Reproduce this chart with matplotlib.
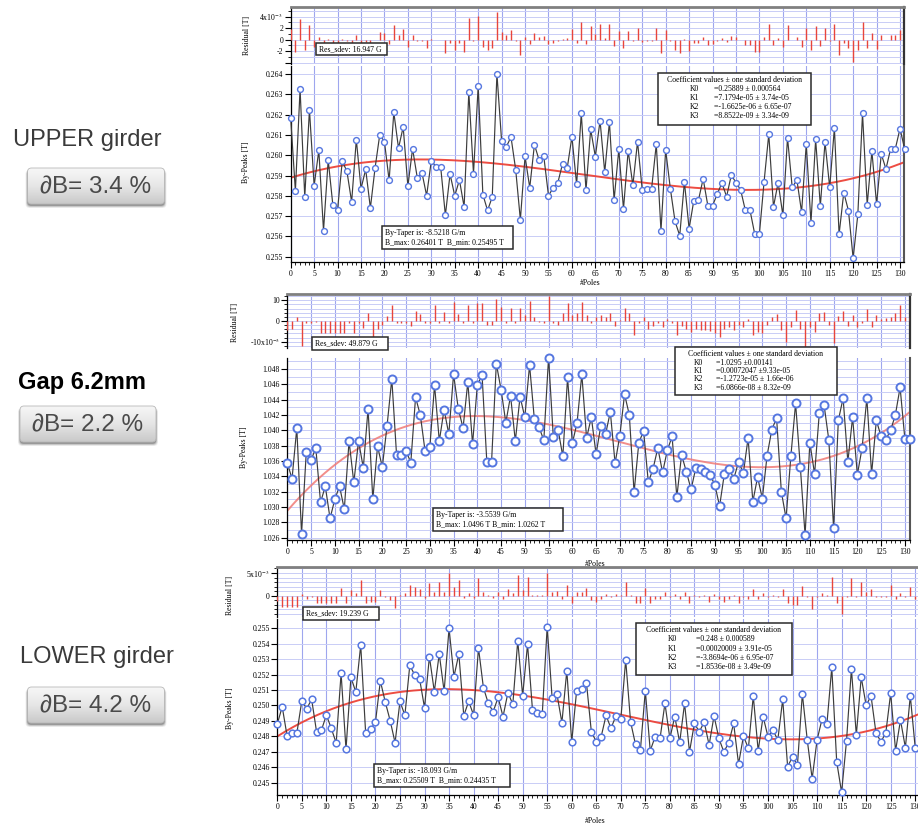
import numpy as np
import matplotlib
matplotlib.use('Agg')
import matplotlib.pyplot as plt
from matplotlib.patches import FancyBboxPatch, Rectangle
from matplotlib.ticker import MultipleLocator, FixedLocator, FixedFormatter, FormatStrFormatter
from matplotlib.colors import LinearSegmentedColormap
from numpy.polynomial import polynomial as P

plt.rcParams['font.family'] = ['Liberation Serif', 'DejaVu Serif']
plt.rcParams['mathtext.fontset'] = 'stix'

W, H = 918, 825

# ---------------------------------------------------------------- data
upper_by = [
    0.26182, 0.25824, 0.26326, 0.25794, 0.26224, 0.2585, 0.26024, 0.25628, 0.25976, 0.25753,
    0.25732, 0.25971, 0.2592, 0.2577, 0.26077, 0.25835, 0.2593, 0.2574, 0.25937, 0.26101,
    0.26067, 0.25876, 0.26211, 0.26035, 0.26139, 0.25847, 0.26032, 0.2589, 0.25914, 0.25801,
    0.25973, 0.25943, 0.25942, 0.25704, 0.25907, 0.258, 0.25878, 0.25745, 0.26311, 0.25909,
    0.26341, 0.25806, 0.25728, 0.25794, 0.264, 0.2607, 0.26041, 0.2609, 0.25929, 0.25682,
    0.25994, 0.2584, 0.26052, 0.25976, 0.25994, 0.25801, 0.25839, 0.25865, 0.25958, 0.25937,
    0.26091, 0.25856, 0.26206, 0.25827, 0.26127, 0.25993, 0.2617, 0.25916, 0.26164, 0.25779,
    0.26029, 0.25735, 0.26022, 0.25852, 0.26067, 0.25829, 0.25835, 0.25835, 0.26054, 0.25628,
    0.26026, 0.25835, 0.25674, 0.25604, 0.25868, 0.25638, 0.25776, 0.25779, 0.25884, 0.25751,
    0.25751, 0.25809, 0.25863, 0.25796, 0.25902, 0.25865, 0.25829, 0.25728, 0.25728, 0.25612,
    0.25612, 0.2587, 0.26104, 0.25746, 0.25865, 0.25705, 0.26086, 0.25841, 0.25878, 0.2572,
    0.26055, 0.25667, 0.26078, 0.25749, 0.26065, 0.25841, 0.26135, 0.2561, 0.25816, 0.25727,
    0.25492, 0.25708, 0.26206, 0.25756, 0.26019, 0.25759, 0.26006, 0.25932, 0.26032, 0.26032,
    0.26131, 0.26029]
# residuals in units of 1e-3 T
upper_res = [
    1.8, -2.1, 3.6, -1.8, 2.6, -1.2, 0.4, -1.5, 0.2, -1.2,
    -1.2, 0.2, -0.3, -1.2, 0.9, -1.2, -0.4, -1.5, 0.0, 1.3,
    1.1, -0.8, 2.6, 0.8, 1.9, -1.2, 0.8, -0.2, -0.3, -1.4,
    0.2, 0.0, 0.0, -2.4, -0.6, -1.8, -0.6, -2.1, 3.8, -0.3,
    4.1, -1.2, -1.8, -1.4, 4.9, 1.4, 0.8, 1.7, -0.3, -2.6,
    0.4, -0.8, 1.1, 0.5, 0.7, -0.8, -0.5, -0.3, 0.2, 0.3,
    1.8, -0.5, 3.0, -0.8, 2.3, 1.0, 2.8, 0.3, 2.8, -1.1,
    1.5, -1.4, 1.5, -0.2, 2.0, -0.4, -0.3, -0.3, 2.0, -2.3,
    1.7, -0.2, -1.8, -2.4, 0.2, -2.0, -0.6, -0.6, 0.5, -0.9,
    -0.8, -0.2, 0.3, -0.4, 0.7, 0.4, 0.0, -1.0, -1.0, -2.2,
    -2.2, 0.4, 2.7, -0.9, 0.3, -1.3, 2.5, 0.0, 0.4, -1.2,
    2.1, -1.8, 2.3, -1.1, 2.1, -0.2, 2.7, -2.6, -0.6, -1.5,
    -3.9, -1.8, 3.1, -1.5, 1.1, -1.6, 0.8, 0.0, 0.9, 0.8,
    1.7, 0.6]
upper_k = [0.25889, 7.1794e-05, -1.6625e-06, 8.8522e-09]
upper_k_txt = ['=0.25889 \u00b1 0.000564', '=7.1794e-05 \u00b1 3.74e-05',
               '=-1.6625e-06 \u00b1 6.65e-07', '=8.8522e-09 \u00b1 3.34e-09']
upper_info = ['By-Taper is: -8.5218 G/m', 'B_max: 0.26401 T  B_min: 0.25495 T']
upper_sdev = 'Res_sdev: 16.947 G'

gap_by = [
    1.0357, 1.0337, 1.0403, 1.0265, 1.0372, 1.0361, 1.0377, 1.0306, 1.0327, 1.0285,
    1.0310, 1.0327, 1.0297, 1.0386, 1.0332, 1.0386, 1.0351, 1.0428, 1.0310, 1.0379,
    1.0352, 1.0406, 1.0467, 1.0368, 1.0368, 1.0373, 1.0358, 1.0443, 1.0420, 1.0373,
    1.0378, 1.0459, 1.0386, 1.0427, 1.0395, 1.0473, 1.0428, 1.0403, 1.0463, 1.0382,
    1.0459, 1.0472, 1.0359, 1.0359, 1.0487, 1.0453, 1.0410, 1.0445, 1.0386, 1.0444,
    1.0417, 1.0485, 1.0415, 1.0404, 1.0387, 1.0495, 1.0391, 1.0401, 1.0366, 1.0469,
    1.0383, 1.0410, 1.0473, 1.0390, 1.0417, 1.0369, 1.0406, 1.0395, 1.0424, 1.0357,
    1.0393, 1.0447, 1.0420, 1.0319, 1.0384, 1.0399, 1.0332, 1.0350, 1.0377, 1.0345,
    1.0374, 1.0392, 1.0313, 1.0368, 1.0346, 1.0323, 1.0351, 1.0349, 1.0346, 1.0342,
    1.0329, 1.0301, 1.0343, 1.0350, 1.0337, 1.0359, 1.0344, 1.0390, 1.0307, 1.0339,
    1.0311, 1.0367, 1.0401, 1.0416, 1.0320, 1.0285, 1.0366, 1.0435, 1.0352, 1.0263,
    1.0384, 1.0343, 1.0423, 1.0433, 1.0387, 1.0272, 1.0413, 1.0442, 1.0359, 1.0417,
    1.0342, 1.0377, 1.0442, 1.0343, 1.0413, 1.0392, 1.0388, 1.0400, 1.0420, 1.0456,
    1.0389, 1.0389]
gap_res = [
    -4.3, -4.0, 1.8, -12.0, -1.1, -1.1, -0.5, -6.0, -6.0, -6.0,
    -6.0, -6.0, -6.0, -1.0, -6.0, -1.0, -3.5, 4.0, -7.5, -4.0,
    -2.0, 2.4, 7.7, -1.1, -1.1, -1.1, -2.4, 5.0, 3.4, -1.1,
    -0.8, 7.7, -0.8, 4.5, -0.8, 9.3, 3.4, -0.8, 7.7, -1.1,
    8.9, 8.9, -1.9, -1.9, 10.5, 6.6, -0.8, 6.1, -0.8, 6.1,
    2.9, 9.8, 2.1, -0.6, -1.1, 11.8, -0.8, -1.9, 3.7, 8.5,
    2.9, 3.7, 9.3, 2.9, -0.8, 2.1, 2.9, 2.1, 4.0, -2.4,
    0.5, 6.1, 4.0, -6.8, -0.8, 2.1, -4.0, -2.4, -1.1, -3.1,
    0.8, -1.1, -6.8, -2.4, -4.0, -5.2, -4.0, -4.4, -4.4, -4.7,
    -6.0, -7.9, -4.0, -3.1, -4.4, -1.9, -3.1, 0.8, -6.8, -5.2,
    -6.0, -1.9, 1.8, 3.4, -4.4, -10.0, -3.1, 5.3, -4.0, -12.4,
    -2.7, -5.2, 3.7, 4.5, -1.9, -10.8, 2.4, 5.0, -2.4, 2.9,
    -2.7, -1.1, 5.6, -3.1, 2.9, 0.8, 1.3, 1.8, 3.7, 7.7,
    1.8, 2.1]
gap_k = [1.0295, 0.00072047, -1.2723e-05, 6.0866e-08]
gap_k_txt = ['=1.0295 \u00b10.00141', '=0.00072047 \u00b19.33e-05',
             '=-1.2723e-05 \u00b1 1.66e-06', '=6.0866e-08 \u00b1 8.32e-09']
gap_info = ['By-Taper is: -3.5539 G/m', 'B_max: 1.0496 T B_min: 1.0262 T']
gap_sdev = 'Res_sdev: 49.879 G'

lower_by = [
    0.24880, 0.24992, 0.24802, 0.24824, 0.24824, 0.25031, 0.24979, 0.25040, 0.24830, 0.24841,
    0.24938, 0.24852, 0.24757, 0.25208, 0.24716, 0.25183, 0.25087, 0.25392, 0.24824, 0.24846,
    0.24891, 0.25159, 0.25023, 0.24902, 0.24759, 0.25027, 0.24936, 0.25260, 0.25198, 0.25172,
    0.24986, 0.25316, 0.25090, 0.25334, 0.25092, 0.25500, 0.25187, 0.25334, 0.24934, 0.25027,
    0.24938, 0.25373, 0.25116, 0.25014, 0.24960, 0.25053, 0.24928, 0.25083, 0.25008, 0.25420,
    0.25064, 0.25396, 0.24973, 0.24954, 0.24945, 0.25511, 0.25051, 0.25072, 0.24889, 0.25226,
    0.24763, 0.25096, 0.25105, 0.25148, 0.24830, 0.24766, 0.24798, 0.24936, 0.24852, 0.24932,
    0.24910, 0.25295, 0.24893, 0.24748, 0.24712, 0.25096, 0.24707, 0.24798, 0.24787, 0.25014,
    0.24787, 0.24928, 0.24761, 0.25014, 0.24699, 0.24884, 0.24830, 0.24893, 0.24744, 0.24932,
    0.24787, 0.24699, 0.24759, 0.24884, 0.24621, 0.24802, 0.24722, 0.25062, 0.24707, 0.24928,
    0.24798, 0.24841, 0.24777, 0.25040, 0.24604, 0.24668, 0.24614, 0.25075, 0.24777, 0.24526,
    0.24777, 0.24910, 0.24878, 0.25247, 0.24636, 0.24437, 0.24770, 0.25237, 0.24809, 0.25183,
    0.25001, 0.25062, 0.24824, 0.24766, 0.24820, 0.25079, 0.24707, 0.24906, 0.24727, 0.25062,
    0.24727]
lower_res = [
    -1.2, -2.5, -2.5, -2.5, -2.5, 0.3, -0.8, -0.3, -1.7, -1.7,
    -1.7, -1.7, -1.7, 1.6, -1.7, 1.3, 0.5, 3.5, -1.7, -1.3,
    -1.3, 1.3, -0.2, -1.0, -2.8, 0.2, 0.5, 2.4, 1.9, 1.4,
    -0.6, 2.9, 0.9, 3.1, 0.9, 5.1, 1.9, 3.4, -0.6, 0.5,
    -0.6, 3.9, 0.9, 0.2, -0.6, 0.9, -0.8, 1.4, 0.7, 4.6,
    1.2, 4.1, 0.2, 0.1, 0.1, 5.1, 0.9, 1.1, -0.8, 2.4,
    -1.7, 0.9, 0.9, 1.6, -1.0, -1.3, -0.8, 0.3, -0.2, 0.3,
    0.2, 3.1, 0.2, -1.7, -1.7, 1.6, -1.7, -0.8, -0.8, 0.9,
    -0.2, 0.3, -0.8, 0.9, -1.7, 0.2, -0.2, 0.2, -1.3, 0.3,
    -0.8, -1.3, -0.8, 0.2, -1.7, -0.2, -0.8, 1.4, -0.8, 0.7,
    -0.2, 0.2, -0.2, 1.4, -1.7, -2.1, -2.1, 2.1, -0.2, -3.0,
    -0.2, 0.5, 0.2, 4.1, -1.7, -4.0, -0.2, 3.9, -0.2, 3.1,
    0.9, 1.4, -0.3, -0.3, -0.3, 2.4, -0.8, 0.5, -0.2, 2.0,
    -0.8]
lower_k = [0.248, 0.00020009, -3.8694e-06, 1.8536e-08]
lower_k_txt = ['=0.248 \u00b1 0.000589', '=0.00020009 \u00b1 3.91e-05',
               '=-3.8694e-06 \u00b1 6.95e-07', '=1.8536e-08 \u00b1 3.49e-09']
lower_info = ['By-Taper is: -18.093 G/m', 'B_max: 0.25509 T  B_min: 0.24435 T']
lower_sdev = 'Res_sdev: 19.239 G'

side_titles = ['UPPER girder', 'Gap 6.2mm', 'LOWER girder']
side_buttons = ['\u2202B= 3.4 %', '\u2202B= 2.2 %', '\u2202B= 4.2 %']

# ---------------------------------------------------------------- style
VGRID = '#9ea6ee'
HGRID = '#c9cdf6'
BLUE = '#5677e0'
RED = '#e8453c'
FS = 5.6


def rect(l, t, r, b):
    return [l / W, 1 - b / H, (r - l) / W, (b - t) / H]


def fx(x):
    return x / W


def fy(y):
    return 1 - y / H


def label_box(fig, l, t, r, b):
    fig.add_artist(Rectangle((fx(l), fy(b)), (r - l) / W, (b - t) / H,
                             transform=fig.transFigure, fc='white', ec='#2a2a2a',
                             lw=1.1, zorder=5))


def ftext(fig, x, y, s, **kw):
    kw.setdefault('fontsize', FS)
    kw.setdefault('va', 'center')
    kw.setdefault('zorder', 6)
    return fig.text(fx(x), fy(y), s, **kw)


def draw_panel(fig, by, res, k, k_txt, info, sdev, g):
    x = np.arange(len(by))
    ar = fig.add_axes(rect(g['left'], g['res_top'], g['right'], g['res_bot']))
    am = fig.add_axes(rect(g['left'], g['main_top'], g['right'], g['main_bot']))
    for ax in (ar, am):
        ax.set_xlim(0, g['xmax'])
        ax.xaxis.set_major_locator(MultipleLocator(5))
        ax.xaxis.set_minor_locator(MultipleLocator(1))
        ax.grid(axis='x', which='major', color=VGRID, lw=0.8)
        ax.set_axisbelow(True)
        ax.spines['top'].set_visible(False)
        ax.spines['left'].set_linewidth(0.9)
        ax.tick_params(axis='y', which='major', direction='out', length=4, width=0.8,
                       labelsize=FS, pad=1.5)
        ax.tick_params(axis='y', which='minor', direction='out', length=2, width=0.6)

    # residual strip
    ar.set_ylim(*g['res_lim'])
    ar.yaxis.set_major_locator(FixedLocator(g['res_ticks']))
    ar.yaxis.set_major_formatter(FixedFormatter(g['res_labels']))
    ar.yaxis.set_minor_locator(MultipleLocator(g['res_grid']))
    ar.grid(axis='y', which='both', color=HGRID, lw=0.7)
    ar.tick_params(axis='x', which='both', bottom=False, labelbottom=False)
    ar.spines['bottom'].set_visible(False)
    ar.spines['top'].set_visible(True)
    ar.spines['top'].set_color('#808080')
    ar.spines['top'].set_linewidth(2)
    if g['right_spine']:
        ar.spines['right'].set_color('#333333')
        ar.spines['right'].set_linewidth(1.6)
    else:
        ar.spines['right'].set_visible(False)
    ar.vlines(x, 0, res, color=RED, lw=1.0, zorder=3)

    # main peaks plot
    am.set_ylim(*g['main_lim'])
    am.yaxis.set_major_locator(MultipleLocator(g['main_step']))
    am.yaxis.set_minor_locator(MultipleLocator(0.001))
    am.yaxis.set_major_formatter(FormatStrFormatter('%.3f'))
    am.grid(axis='y', which='both', color=HGRID, lw=0.7)
    am.tick_params(axis='y', which='minor', length=0)
    am.tick_params(axis='x', which='major', direction='out', length=4, width=0.8,
                   labelsize=FS, pad=2)
    am.tick_params(axis='x', which='minor', direction='out', length=2, width=0.6)
    am.spines['bottom'].set_linewidth(0.9)
    if g['right_spine']:
        am.spines['right'].set_color('#555555')
        am.spines['right'].set_linewidth(1.5)
    else:
        am.spines['right'].set_visible(False)

    xf = np.linspace(0, g['xmax'], 400)
    am.plot(xf, P.polyval(xf, k), color=g['fit_color'], lw=1.4, alpha=g['fit_alpha'], zorder=2)
    am.plot(x, by, color='#3c3c3c', lw=0.85, marker='o', ms=g['ms'], mfc='white',
            mec=BLUE, mew=g['mew'], zorder=3, clip_on=False)

    # axis titles
    ftext(fig, g['ylab_x'], g['ylab_y'], 'By-Peaks [T]', rotation=90, ha='center')
    ftext(fig, g['rlab_x'], g['rlab_y'], 'Residual [T]', rotation=90, ha='center')
    ftext(fig, g['poles_x'], g['poles_y'], '#Poles', ha='center')

    # Res_sdev box
    l, t, r, b = g['sdev_box']
    label_box(fig, l, t, r, b)
    ftext(fig, l + 3, (t + b) / 2, sdev)

    # taper box
    l, t, r, b = g['info_box']
    label_box(fig, l, t, r, b)
    ftext(fig, l + 3, t + (b - t) * 0.3, info[0])
    ftext(fig, l + 3, t + (b - t) * 0.72, info[1])

    # coefficient box
    l, t, r, b = g['coef_box']
    label_box(fig, l, t, r, b)
    ftext(fig, (l + r) / 2, t + 7, 'Coefficient values \u00b1 one standard deviation', ha='center')
    for i, s in enumerate(k_txt):
        yy = t + 16 + i * g['coef_dy']
        ftext(fig, g['coef_kx'], yy, 'K%d' % i, ha='left')
        ftext(fig, g['coef_vx'], yy, s, ha='left')


def button(fig, cx, cy, w, h, label):
    m = 6
    l, t = cx - w / 2, cy - h / 2
    ax = fig.add_axes(rect(l - m, t - m, l + w + m, t + h + m))
    ax.set_xlim(0, w + 2 * m)
    ax.set_ylim(0, h + 2 * m)
    ax.axis('off')
    for i, a in enumerate([0.06, 0.09, 0.14, 0.2]):
        ax.add_patch(FancyBboxPatch((m - 2 + i * 0.6, m - 4 + i * 0.7), w + 4 - i * 1.2,
                                    h + 2 - i * 0.8, boxstyle='round,pad=0,rounding_size=4',
                                    fc='black', ec='none', alpha=a))
    body = FancyBboxPatch((m, m), w, h, boxstyle='round,pad=0,rounding_size=4',
                          fc='none', ec='#b8b8b8', lw=0.6, zorder=3)
    ax.add_patch(body)
    cmap = LinearSegmentedColormap.from_list('btn', ['#c9c9c9', '#e6e6e6', '#f7f7f7'])
    grad = np.linspace(0, 1, 64)[:, None]
    im = ax.imshow(grad, extent=(m, m + w, m, m + h), origin='lower', cmap=cmap,
                   aspect='auto', zorder=2)
    im.set_clip_path(body)
    ax.text(m + w / 2, m + h / 2 - 1, label, ha='center', va='center', fontsize=17.5,
            color='#4a4a4a', family=['Liberation Sans', 'DejaVu Sans'], zorder=4)


geo_upper = dict(left=290.7, right=904, xmax=130.85,
                 res_top=7, res_bot=64, res_lim=(-4.23, 5.69),
                 res_ticks=[-4, -2, 0, 2, 4], res_labels=['', '-2', '0', '2', '4x10$^{-3}$'],
                 res_grid=1, main_top=66, main_bot=261.7, main_lim=(0.254754, 0.264394),
                 main_step=0.001, ms=4.2, mew=1.0, fit_color='#ec3a2e', fit_alpha=0.9,
                 right_spine=True, ylab_x=246, ylab_y=162, rlab_x=247, rlab_y=35,
                 poles_x=590, poles_y=283,
                 sdev_box=(316, 43, 387, 55), info_box=(381.7, 225.7, 513.3, 249.3),
                 coef_box=(657.7, 73.3, 810.7, 125), coef_dy=8.8, coef_kx=690, coef_vx=714)

geo_gap = dict(left=287.3, right=909.6, xmax=131.0,
               res_top=294, res_bot=348, res_lim=(-13.0, 13.0),
               res_ticks=[-10, 0, 10], res_labels=['-10x10$^{-3}$', '0', '10'],
               res_grid=2, main_top=358, main_bot=540, main_lim=(1.02569, 1.049435),
               main_step=0.002, ms=5.8, mew=1.4, fit_color='#f07a76', fit_alpha=0.85,
               right_spine=True, ylab_x=244, ylab_y=447, rlab_x=235, rlab_y=322,
               poles_x=595, poles_y=564,
               sdev_box=(311.7, 336.7, 388.3, 350), info_box=(433.3, 508.3, 563.3, 530.7),
               coef_box=(675, 346.7, 836.7, 395), coef_dy=8.4, coef_kx=694, coef_vx=716)

geo_lower = dict(left=277.3, right=918, xmax=130.57,
                 res_top=567, res_bot=617, res_lim=(-4.69, 6.32),
                 res_ticks=[0, 5], res_labels=['0', '5x10$^{-3}$'],
                 res_grid=1, main_top=619, main_bot=795, main_lim=(0.244203, 0.255602),
                 main_step=0.001, ms=4.8, mew=1.1, fit_color='#ec3a2e', fit_alpha=0.9,
                 right_spine=False, ylab_x=230, ylab_y=708, rlab_x=230, rlab_y=595,
                 poles_x=595, poles_y=821,
                 sdev_box=(303, 606.7, 379, 620), info_box=(374, 764, 510, 786.7),
                 coef_box=(636, 623.3, 791.7, 675), coef_dy=9.3, coef_kx=668, coef_vx=696)


def main():
    fig = plt.figure(figsize=(W / 100, H / 100), dpi=100)
    fig.patch.set_facecolor('white')

    draw_panel(fig, upper_by, upper_res, upper_k, upper_k_txt, upper_info, upper_sdev, geo_upper)
    draw_panel(fig, gap_by, gap_res, gap_k, gap_k_txt, gap_info, gap_sdev, geo_gap)
    draw_panel(fig, lower_by, lower_res, lower_k, lower_k_txt, lower_info, lower_sdev, geo_lower)

    sans = ['Liberation Sans', 'DejaVu Sans']
    ftext(fig, 87, 140, side_titles[0], ha='center', fontsize=17, color='#3a3a3a', family=sans)
    ftext(fig, 82, 382, side_titles[1], ha='center', fontsize=17, color='black',
          fontweight='bold', family=sans)
    ftext(fig, 97, 657, side_titles[2], ha='center', fontsize=17, color='#3a3a3a', family=sans)

    button(fig, 96, 186, 137, 36, side_buttons[0])
    button(fig, 88, 424, 136, 36, side_buttons[1])
    button(fig, 96, 705, 137, 36, side_buttons[2])

    fig.savefig('out.png', dpi=100)


if __name__ == '__main__':
    main()
